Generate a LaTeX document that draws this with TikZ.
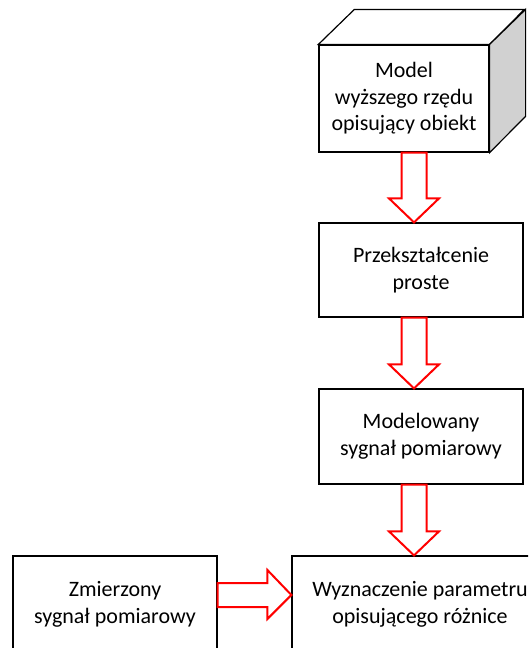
\documentclass[tikz,border=0pt]{standalone}
\usepackage{fontspec}
\setmainfont{Carlito}
\usetikzlibrary{calc}

\tikzset{
  box/.style={draw=black, line width=1.2pt, fill=white, align=center,
    inner sep=0pt, font=\fontsize{22}{26.7}\selectfont},
  fatarrow/.style={draw=red, line width=2pt, fill=white, line join=miter},
  sideface/.style={draw=black, line width=1.2pt, fill=black!18},
  topface/.style={draw=black, line width=1.2pt, fill=white}
}

% hollow block arrow pointing down, axis at x = #1, from #2 to #3
\newcommand\blockdown[3]{%
  \draw[fatarrow]
    ($(#1 |- #2)+(-12.5,0)$) -- ($(#1 |- #3)+(-12.5,-24)$) --
    ($(#1 |- #3)+(-25,-24)$) -- (#1 |- #3) --
    ($(#1 |- #3)+(25,-24)$) -- ($(#1 |- #3)+(12.5,-24)$) --
    ($(#1 |- #2)+(12.5,0)$) -- cycle;}

\begin{document}
\begin{tikzpicture}[x=1pt, y=-1pt]
  \useasboundingbox (0,0) rectangle (528,648);
  \clip (0,0) rectangle (528,648);

  % object model drawn as a box with depth
  \node[box, minimum width=170pt, minimum height=107pt] (model) at (404,98.5)
    {Model\\wyższego rzędu\\opisujący obiekt};
  \draw[topface] (model.north west) -- ++(36,-35) -- ++(170,0)
    -- (model.north east) -- cycle;
  \draw[sideface] (model.north east) -- ++(36,-35) -- ++(0,107)
    -- (model.south east) -- cycle;

  \node[box, minimum width=204pt, minimum height=94pt] (prz) at (421,270)
    {Przekształcenie\\proste};
  \node[box, minimum width=204pt, minimum height=95pt] (mod) at (421,436.5)
    {Modelowany\\sygnał pomiarowy};
  \node[box, minimum width=204pt, minimum height=97pt] (zm) at (115,604.5)
    {Zmierzony\\sygnał pomiarowy};
  \node[box, minimum width=256pt, minimum height=97pt] (wyz) at (420,604.5)
    {Wyznaczenie parametru\\opisującego różnice};

  % axis of the vertical arrows
  \coordinate (ax) at (414,0);
  \blockdown{ax}{model.south}{prz.north}
  \blockdown{ax}{prz.south}{mod.north}
  \blockdown{ax}{mod.south}{wyz.north}

  % horizontal arrow from measured signal to comparison
  \coordinate (hy) at (0,595);
  \draw[fatarrow]
    ($(zm.east |- hy)+(0,-12)$) -- ($(wyz.west |- hy)+(-24,-12)$) --
    ($(wyz.west |- hy)+(-24,-25)$) -- (wyz.west |- hy) --
    ($(wyz.west |- hy)+(-24,24)$) -- ($(wyz.west |- hy)+(-24,12)$) --
    ($(zm.east |- hy)+(0,12)$) -- cycle;
\end{tikzpicture}
\end{document}
